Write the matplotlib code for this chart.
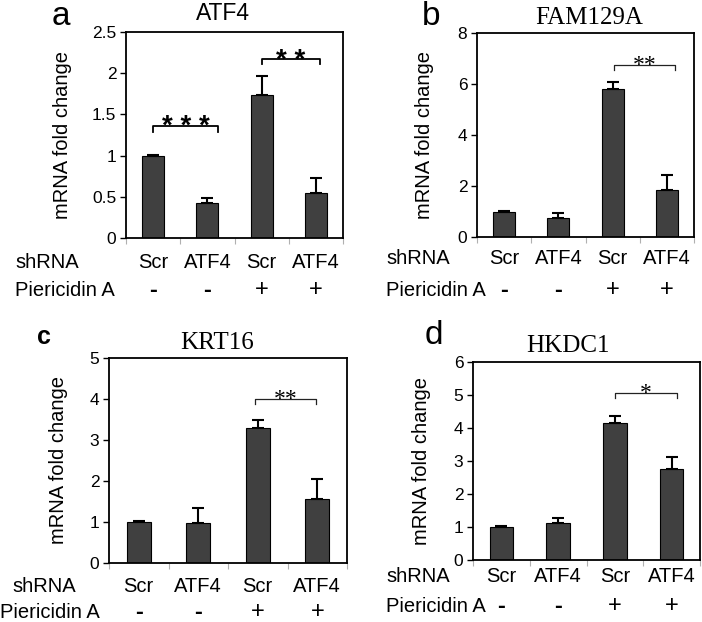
import matplotlib
matplotlib.use("Agg")
import matplotlib.pyplot as plt
import matplotlib.transforms as mtransforms
import numpy as np

plt.rcParams['font.family'] = ['Liberation Sans', 'DejaVu Sans']

# values
shrna = ['Scr', 'ATF4', 'Scr', 'ATF4']
pieri = ['-', '-', '+', '+']

atf4_mean = [1.0, 0.42, 1.74, 0.55]
atf4_err = [0.01, 0.07, 0.22, 0.18]
fam_mean = [1.0, 0.75, 5.82, 1.86]
fam_err = [0.03, 0.21, 0.24, 0.57]
krt_mean = [1.0, 0.97, 3.30, 1.57]
krt_err = [0.02, 0.36, 0.19, 0.48]
hk_mean = [1.0, 1.13, 4.16, 2.77]
hk_err = [0.02, 0.15, 0.21, 0.35]

# significance brackets: (stars, x from, x to, height, drop)
atf4_sig = [('* * *', 0.0, 1.2, 1.36, 0.07), ('* *', 2.0, 3.07, 2.17, 0.06)]
fam_sig = [('**', 2.03, 3.15, 6.73, 0.2)]
krt_sig = [('**', 1.95, 2.98, 4.0, 0.13)]
hk_sig = [('*', 2.01, 3.09, 5.05, 0.15)]

W, H = 702, 622
fig = plt.figure(figsize=(W / 100, H / 100), dpi=100)


def px(l, r, t, b):
    return [l / W, 1 - b / H, (r - l) / W, (b - t) / H]


def panel(box, mean, err, ymax, ystep, sig, lab_x, row_y, row_x, star_sans=False):
    ax = fig.add_axes(px(*box))
    x = np.arange(len(mean))
    ax.bar(x, mean, width=0.41, color='#404040', edgecolor='black', linewidth=0.8, zorder=2)
    ax.errorbar(x, mean, yerr=[np.zeros(len(err)), err], fmt='none', ecolor='black',
                elinewidth=1.5, capsize=4.5, capthick=1.5, zorder=3)
    ax.set_xlim(-0.5, 3.5)
    ax.set_ylim(0, ymax)
    ticks = np.arange(0, ymax + 1e-9, ystep)
    ax.set_yticks(ticks)
    ax.set_yticklabels(['%g' % t for t in ticks], fontsize=12.5)
    ax.set_xticks([-0.5, 0.5, 1.5, 2.5, 3.5])
    ax.set_xticklabels([])
    ax.tick_params(axis='x', length=4, color='#b0b0b0', width=0.8)
    ax.tick_params(axis='y', length=4, width=1.0, pad=3)
    for s in ax.spines.values():
        s.set_linewidth(1.3)
    ax.set_ylabel('mRNA fold change', fontsize=14.5)
    l, r = box[0], box[1]
    ax.yaxis.set_label_coords((lab_x - l) / (r - l), 0.5)

    for stars, x0, x1, y, d in sig:
        if star_sans:
            ax.plot([x0, x0, x1, x1], [y - d, y, y, y - d], color='black', lw=1.3)
            ax.annotate(stars, ((x0 + x1) / 2, y), xytext=(0, -6), textcoords='offset points',
                        ha='center', va='baseline', fontsize=20, fontweight='bold')
        else:
            ax.plot([x0, x0, x1, x1], [y - d, y, y, y - d], color='#222222', lw=0.9)
            ax.annotate(stars, ((x0 + x1) / 2, y), xytext=(0, -4), textcoords='offset points',
                        ha='center', va='baseline', fontsize=17, family='Liberation Serif')

    tr = mtransforms.blended_transform_factory(ax.transData, fig.transFigure)
    for i in range(len(mean)):
        ax.text(x[i], 1 - row_y[0] / H, shrna[i], transform=tr, ha='center', va='center',
                fontsize=14.5)
        ax.text(x[i], 1 - row_y[1] / H, pieri[i], transform=tr, ha='center', va='center',
                fontsize=17, fontweight='bold' if pieri[i] == '-' else 'normal')
    fig.text(row_x[0] / W, 1 - row_y[0] / H, 'shRNA', ha='left', va='center', fontsize=14.5)
    fig.text(row_x[1] / W, 1 - row_y[1] / H, 'Piericidin A', ha='left', va='center', fontsize=14.5)
    return ax


axa = panel((126, 343, 32, 238), atf4_mean, atf4_err, 2.5, 0.5, atf4_sig,
            72, (262, 290), (15, 15), star_sans=True)
axb = panel((477, 694, 33, 237), fam_mean, fam_err, 8, 2, fam_sig,
            434, (259, 290), (386, 386))
axc = panel((109, 347, 358, 563), krt_mean, krt_err, 5, 1, krt_sig,
            68, (587, 612), (12, 0))
axd = panel((473, 700, 362, 560), hk_mean, hk_err, 6, 1, hk_sig,
            431, (577, 606), (386, 386))

# panel letters
fig.text(61 / W, 1 - 25 / H, 'a', ha='center', va='baseline', fontsize=24)
fig.text(431 / W, 1 - 25 / H, 'b', ha='center', va='baseline', fontsize=24)
fig.text(44 / W, 1 - 344 / H, 'c', ha='center', va='baseline', fontsize=18, fontweight='bold')
fig.text(434 / W, 1 - 344 / H, 'd', ha='center', va='baseline', fontsize=24)

# gene titles
fig.text(223 / W, 1 - 13 / H, 'ATF4', ha='center', va='center', fontsize=16.5)
fig.text(589 / W, 1 - 18 / H, 'FAM129A', ha='center', va='center', fontsize=18, family='Liberation Serif')
fig.text(217 / W, 1 - 343 / H, 'KRT16', ha='center', va='center', fontsize=18, family='Liberation Serif')
fig.text(568 / W, 1 - 346 / H, 'HKDC1', ha='center', va='center', fontsize=18, family='Liberation Serif')

fig.savefig('out.png', dpi=100)
